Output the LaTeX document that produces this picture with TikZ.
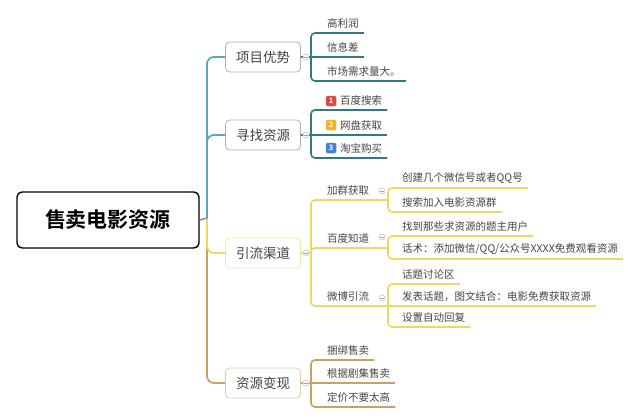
\documentclass[tikz,border=0pt]{standalone}
\usepackage{fontspec}
\setmainfont{Noto Sans CJK SC}[BoldFont={Noto Sans CJK SC Bold}]
\usepackage{xcolor}
\usepackage{tikz}
\usetikzlibrary{positioning}
\definecolor{TealTronco}{RGB}{88,170,174}
\definecolor{TealRama}{RGB}{50,122,128}
\definecolor{AmarilloRama}{RGB}{232,220,96}
\definecolor{BordeAmarillo}{RGB}{238,230,170}
\definecolor{OcreRama}{RGB}{200,162,100}
\definecolor{BordeOcre}{RGB}{224,204,170}
\definecolor{GrisTexto}{RGB}{68,68,68}
\definecolor{RojoInsignia}{RGB}{214,78,72}
\definecolor{NaranjaInsignia}{RGB}{240,178,40}
\definecolor{AzulInsignia}{RGB}{72,130,208}

\tikzset{
  raiz/.style={draw=black,line width=1.4pt,rounded corners=5pt,fill=white,
    minimum width=182pt,minimum height=56pt,
    font=\fontsize{21}{24}\selectfont\bfseries},
  rama/.style={draw=gray!60,line width=0.8pt,rounded corners=4pt,fill=white,
    minimum width=75pt,minimum height=30pt,text=GrisTexto,
    font=\fontsize{13.5}{16}\selectfont},
  hoja/.style={anchor=south west,inner xsep=5pt,inner ysep=4pt,text=GrisTexto,
    font=\fontsize{10.5}{12}\selectfont},
  tronco/.style={line width=1.8pt,rounded corners=7pt},
  linea/.style={line width=1.6pt,rounded corners=4pt},
  insignia/.style={rounded corners=1.5pt,inner sep=0pt,minimum size=10.5pt,
    text=white,font=\fontsize{7.5}{8}\selectfont\bfseries},
  pliegue/.style={circle,draw=gray!50,fill=white,inner sep=0pt,minimum size=6pt,
    line width=0.5pt,path picture={\draw[gray!70,line width=0.5pt]
      ([xshift=-1.8pt]path picture bounding box.center) --
      ([xshift=1.8pt]path picture bounding box.center);}}
}

\begin{document}
\begin{tikzpicture}[x=1pt,y=-1pt]
  \useasboundingbox (0,0) rectangle (640,420);

  % raiz y ramas principales
  \node[raiz] (raiz) at (108,220) {售卖电影资源};
  \coordinate (hub) at (207,218);
  \node[rama] (b1) at (263,57) {项目优势};
  \node[rama] (b2) at (263,135) {寻找资源};
  \node[rama,draw=BordeAmarillo] (b3) at (263,253) {引流渠道};
  \node[rama,draw=BordeOcre] (b4) at (263,383) {资源变现};

  \draw[tronco,OcreRama] (hub) |- (b4.west);
  \draw[tronco,AmarilloRama] (hub) |- (b3.west);
  \draw[tronco,TealTronco] (hub) |- (b2.west);
  \draw[tronco,TealTronco] (hub) |- (b1.west);
  \draw[line width=1.4pt,gray!80!brown] (raiz.east) -- (hub);

  % 项目优势
  \coordinate (j1) at (311,57);
  \node[hoja] (h11) at (322,33) {高利润};
  \node[hoja] (h12) at (322,57) {信息差};
  \node[hoja] (h13) at (322,81) {市场需求量大。};
  \draw[linea,TealRama] (b1.east) -- (j1);
  \draw[linea,TealRama] (j1) |- (h11.south east);
  \draw[linea,TealRama] (j1) -- (h12.south east);
  \draw[linea,TealRama] (j1) |- (h13.south east);
  \node[pliegue] (p1) at (306,57) {};

  % 寻找资源
  \coordinate (j2) at (311,135);
  \node[hoja] (h21) at (335,110) {百度搜索};
  \node[hoja] (h22) at (335,135) {网盘获取};
  \node[hoja] (h23) at (335,158) {淘宝购买};
  \draw[linea,TealRama] (b2.east) -- (j2);
  \draw[linea,TealRama] (j2) |- (h21.south east);
  \draw[linea,TealRama] (j2) -- (h22.south east);
  \draw[linea,TealRama] (j2) |- (h23.south east);
  \node[insignia,fill=RojoInsignia] (i1) at (331,101) {1};
  \node[insignia,fill=NaranjaInsignia] (i2) at (331,125) {2};
  \node[insignia,fill=AzulInsignia] (i3) at (331,148) {3};
  \node[pliegue] (p2) at (306,135) {};

  % 引流渠道
  \coordinate (j3) at (311,253);
  \coordinate (k1) at (388,200);
  \coordinate (k2) at (388,248);
  \coordinate (k3) at (388,306);
  \node[hoja] (s1) at (322,200) {加群获取};
  \node[hoja] (s2) at (322,248) {百度知道};
  \node[hoja] (s3) at (322,306) {微博引流};
  \draw[linea,AmarilloRama] (b3.east) -- (j3);
  \draw[linea,AmarilloRama] (j3) |- (k1);
  \draw[linea,AmarilloRama] (j3) |- (k2);
  \draw[linea,AmarilloRama] (j3) |- (k3);
  \node[pliegue] (p3) at (306,253) {};

  \node[hoja] (h31) at (397,188) {创建几个微信号或者QQ号};
  \node[hoja] (h32) at (397,212) {搜索加入电影资源群};
  \draw[linea,AmarilloRama] (k1) |- (h31.south east);
  \draw[linea,AmarilloRama] (k1) |- (h32.south east);
  \node[pliegue] (p31) at (382,191) {};

  \node[hoja] (h33) at (397,236) {找到那些求资源的题主用户};
  \node[hoja] (h34) at (397,259) {话术：添加微信/QQ/公众号XXXX免费观看资源};
  \draw[linea,AmarilloRama] (k2) |- (h33.south east);
  \draw[linea,AmarilloRama] (k2) |- (h34.south east);
  \node[pliegue] (p32) at (382,237) {};

  \node[hoja] (h35) at (397,284) {话题讨论区};
  \node[hoja] (h36) at (397,306) {发表话题，图文结合：电影免费获取资源};
  \node[hoja] (h37) at (397,327) {设置自动回复};
  \draw[linea,AmarilloRama] (k3) |- (h35.south east);
  \draw[linea,AmarilloRama] (k3) -- (h36.south east);
  \draw[linea,AmarilloRama] (k3) |- (h37.south east);
  \node[pliegue] (p33) at (382,298) {};

  % 资源变现
  \coordinate (j4) at (311,383);
  \node[hoja] (h41) at (322,360) {捆绑售卖};
  \node[hoja] (h42) at (322,383) {根据剧集售卖};
  \node[hoja] (h43) at (322,407) {定价不要太高};
  \draw[linea,OcreRama] (b4.east) -- (j4);
  \draw[linea,OcreRama] (j4) |- (h41.south east);
  \draw[linea,OcreRama] (j4) -- (h42.south east);
  \draw[linea,OcreRama] (j4) |- (h43.south east);
  \node[pliegue] (p4) at (306,383) {};
\end{tikzpicture}
\end{document}
